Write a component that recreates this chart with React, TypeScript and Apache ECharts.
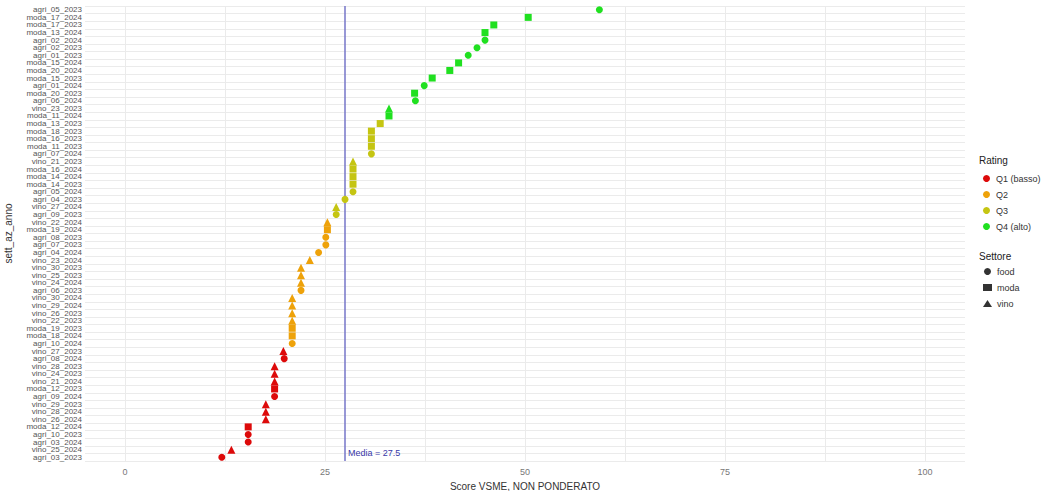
import React, { useEffect, useRef } from "react";
import * as echarts from "echarts";

const categories = [
  "agri_05_2023", "moda_17_2024", "moda_17_2023", "moda_13_2024", "agri_02_2024",
  "agri_02_2023", "agri_01_2023", "moda_15_2024", "moda_20_2024", "moda_15_2023",
  "agri_01_2024", "moda_20_2023", "agri_06_2024", "vino_23_2023", "moda_11_2024",
  "moda_13_2023", "moda_18_2023", "moda_16_2023", "moda_11_2023", "agri_07_2024",
  "vino_21_2023", "moda_16_2024", "moda_14_2024", "moda_14_2023", "agri_05_2024",
  "agri_04_2023", "vino_27_2024", "agri_09_2023", "vino_22_2024", "moda_19_2024",
  "agri_08_2023", "agri_07_2023", "agri_04_2024", "vino_23_2024", "vino_30_2023",
  "vino_25_2023", "vino_24_2024", "agri_06_2023", "vino_30_2024", "vino_29_2024",
  "vino_26_2023", "vino_22_2023", "moda_19_2023", "moda_18_2024", "agri_10_2024",
  "vino_27_2023", "agri_08_2024", "vino_28_2023", "vino_24_2023", "vino_21_2024",
  "moda_12_2023", "agri_09_2024", "vino_29_2023", "vino_28_2024", "vino_26_2024",
  "moda_12_2024", "agri_10_2023", "agri_03_2024", "vino_25_2024", "agri_03_2023",
];

const scores = [
  59.3, 50.4, 46.1, 45.0, 45.0,
  44.0, 42.9, 41.7, 40.6, 38.4,
  37.4, 36.2, 36.3, 33.0, 33.0,
  31.9, 30.8, 30.8, 30.8, 30.8,
  28.5, 28.5, 28.5, 28.5, 28.5,
  27.5, 26.4, 26.4, 25.3, 25.3,
  25.1, 25.1, 24.2, 23.1, 22.0,
  22.0, 22.0, 22.0, 20.9, 20.9,
  20.9, 20.9, 20.9, 20.9, 20.9,
  19.8, 19.9, 18.7, 18.7, 18.7,
  18.7, 18.7, 17.6, 17.6, 17.6,
  15.4, 15.4, 15.4, 13.3, 12.1,
];

const ratingOf = [
  4, 4, 4, 4, 4, 4, 4, 4, 4, 4, 4, 4, 4, 4, 4,
  3, 3, 3, 3, 3, 3, 3, 3, 3, 3, 3, 3, 3,
  2, 2, 2, 2, 2, 2, 2, 2, 2, 2, 2, 2, 2, 2, 2, 2, 2,
  1, 1, 1, 1, 1, 1, 1, 1, 1, 1, 1, 1, 1, 1, 1,
];

const ratingNames = ["Q1 (basso)", "Q2", "Q3", "Q4 (alto)"];
const ratingColors = ["#dd0a0a", "#eea20a", "#c5c512", "#20e020"];
const settoreNames = ["food", "moda", "vino"];
const settoreSymbols = ["circle", "rect", "triangle"];
const settoreSizes = [7, 7, 8];
const mediaValue = 27.5;
const xLabelValues = [0, 25, 50, 75, 100];
const xGridValues = [0, 12.5, 25, 37.5, 50, 62.5, 75, 87.5, 100];

function settoreIndex(cat: string) {
  if (cat.startsWith("agri")) return 0;
  if (cat.startsWith("moda")) return 1;
  return 2;
}

export default function App() {
  const ref = useRef<HTMLDivElement>(null);
  useEffect(() => {
    if (!ref.current) return;
    const chart = echarts.init(ref.current, undefined, { renderer: "svg" });

    const ratingSeries = ratingNames.map((name, qi) => {
      const data = categories
        .map((cat, i) => ({ cat, i }))
        .filter(({ i }) => ratingOf[i] === qi + 1)
        .map(({ cat, i }) => {
          const s = settoreIndex(cat);
          return {
            value: [scores[i], cat],
            symbol: settoreSymbols[s],
            symbolSize: settoreSizes[s],
          };
        });
      return {
        name,
        type: "scatter",
        symbol: "circle",
        symbolSize: 7,
        clip: false,
        itemStyle: { color: ratingColors[qi], opacity: 1 },
        data,
        z: 3,
      };
    });

    const settoreSeries = settoreNames.map((name, si) => ({
      name,
      type: "scatter",
      symbol: settoreSymbols[si],
      symbolSize: settoreSizes[si],
      itemStyle: { color: "#000" },
      data: [],
    }));

    const lineSeries = {
      name: "media",
      type: "scatter",
      data: [],
      markLine: {
        silent: true,
        symbol: "none",
        lineStyle: { color: "#7676c8", width: 1.5, type: "solid" },
        label: { show: false },
        data: [{ xAxis: mediaValue }],
        z: 2,
      },
      markPoint: {
        symbol: "circle",
        symbolSize: 0,
        label: {
          show: true,
          position: "right",
          distance: 3,
          offset: [0, -4],
          color: "#3838a8",
          fontSize: 9,
          fontFamily: "Liberation Sans",
          formatter: "Media = " + mediaValue,
        },
        data: [{ coord: [mediaValue, categories[categories.length - 1]] }],
      },
    };

    const legendText = { fontSize: 9, color: "#333" };

    chart.setOption({
      animation: false,
      backgroundColor: "#ffffff",
      textStyle: { fontFamily: "Liberation Sans" },
      title: [
        { text: "Rating", left: 979, top: 155, padding: 0, textStyle: { fontSize: 10, fontWeight: "normal", color: "#222" } },
        { text: "Settore", left: 979, top: 251, padding: 0, textStyle: { fontSize: 10, fontWeight: "normal", color: "#222" } },
      ],
      legend: [
        {
          data: ratingNames,
          orient: "vertical",
          left: 983,
          top: 174,
          padding: 0,
          itemWidth: 9,
          itemHeight: 7,
          itemGap: 7,
          textStyle: legendText,
          selectedMode: false,
        },
        {
          data: settoreNames,
          orient: "vertical",
          left: 983,
          top: 267,
          padding: 0,
          itemWidth: 9,
          itemHeight: 7,
          itemGap: 7,
          textStyle: legendText,
          selectedMode: false,
        },
      ],
      grid: { left: 85, right: 80, top: 6, height: 455, outerBoundsMode: "none", containLabel: false },
      xAxis: {
        type: "value",
        min: -5,
        max: 105,
        name: "Score VSME, NON PONDERATO",
        nameLocation: "middle",
        nameGap: 20,
        nameMoveOverlap: false,
        nameTextStyle: { fontSize: 10, color: "#333" },
        axisLine: { show: false },
        axisTick: { show: false, customValues: xGridValues },
        axisLabel: { customValues: xLabelValues, fontSize: 9, color: "#777", margin: 6 },
        splitLine: { show: true, lineStyle: { color: "#ebebeb", width: 1 } },
      },
      yAxis: {
        type: "category",
        data: categories,
        inverse: true,
        name: "sett_az_anno",
        nameLocation: "middle",
        nameRotate: 90,
        nameGap: 72,
        nameMoveOverlap: false,
        nameTextStyle: { fontSize: 10, color: "#333" },
        axisLine: { show: false },
        axisTick: { show: false },
        axisLabel: { interval: 0, fontSize: 8, color: "#555", margin: 3, hideOverlap: false },
        splitLine: { show: true, interval: 0, lineStyle: { color: "#ebebeb", width: 1 } },
      },
      series: [lineSeries, ...ratingSeries, ...settoreSeries],
    });
    return () => chart.dispose();
  }, []);
  return <div ref={ref} style={{ position: "fixed", left: 0, top: 0, width: 1045, height: 491 }} />;
}
